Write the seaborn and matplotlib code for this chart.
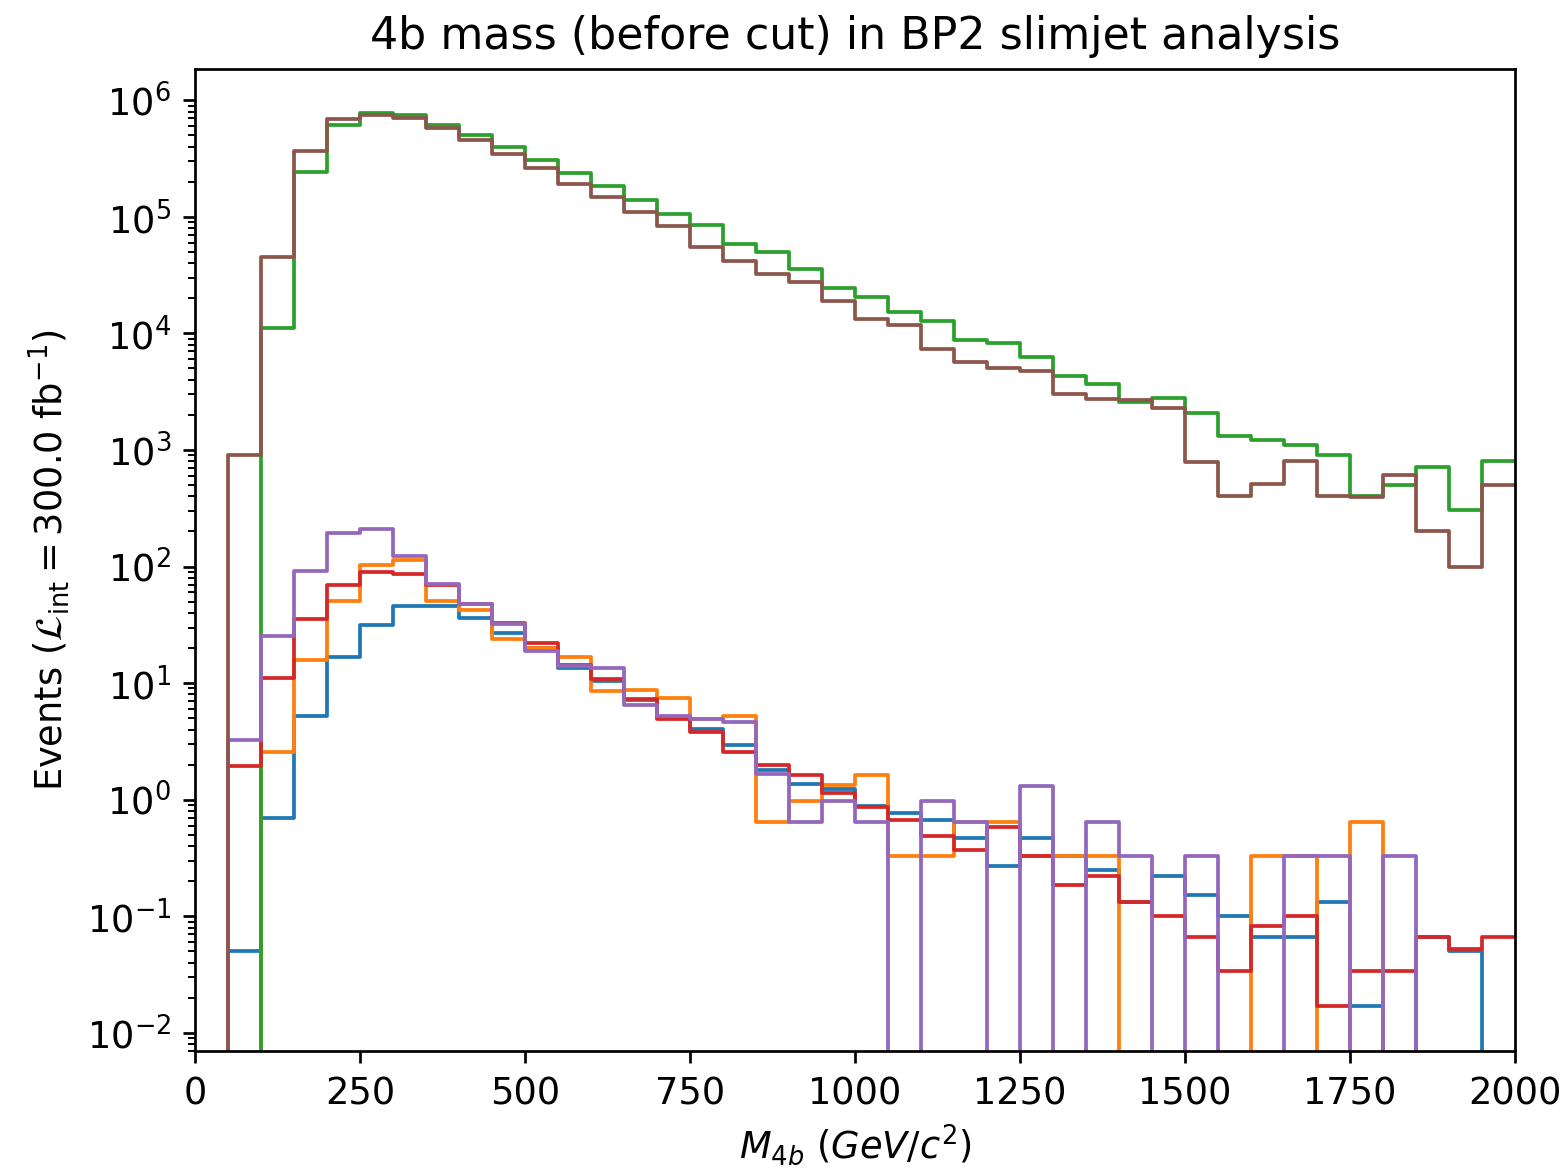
import numpy as np
import pandas as pd
import matplotlib
matplotlib.use("Agg")
import matplotlib.pyplot as plt
import seaborn as sns

# ---- data (events per 50 GeV bin, 0 .. 2000) ----
bin_edges = list(range(0, 2050, 50))

sample_blue = [0, 0.05, 0.70, 5.25, 16.9, 31.7, 45.5, 46, 36.5, 27,
               19.9, 13.5, 10.5, 7.2, 5.0, 4.06, 2.92, 1.8, 1.37, 1.24,
               0.88, 0.77, 0.665, 0.466, 0.268, 0.466, 0.327, 0.251, 0.134, 0.22,
               0.153, 0.1, 0.067, 0.067, 0.134, 0.017, 0, 0.067, 0.05, 0]
sample_orange = [0, 0, 2.56, 15.9, 51, 104, 114, 51, 42.7, 23.9,
                 19.9, 16.9, 8.6, 8.8, 7.5, 4.9, 5.2, 0.65, 0.97, 1.33,
                 1.64, 0.327, 0.327, 0.65, 0.65, 0.327, 0.327, 0.327, 0, 0,
                 0, 0, 0.327, 0.327, 0, 0.65, 0, 0, 0, 0]
sample_green = [0, 0, 11100, 240000, 616000, 780000, 750000, 616000, 500000, 400000,
                304000, 236000, 184000, 138000, 105000, 85000, 58000, 50000, 36000, 24300,
                20700, 15300, 12700, 8700, 8350, 6300, 4350, 3700, 2570, 2790,
                2070, 1320, 1220, 1100, 910, 400, 505, 715, 303, 804]
sample_red = [0, 1.93, 11, 35.5, 69, 89, 86, 69, 47.6, 33,
              22, 14.4, 10.9, 7.35, 4.9, 3.8, 2.56, 2.0, 1.64, 1.14,
              0.865, 0.67, 0.485, 0.373, 0.583, 0.33, 0.187, 0.22, 0.134, 0.1,
              0.067, 0.034, 0.083, 0.1, 0.017, 0.034, 0.034, 0.067, 0.052, 0.067]
sample_purple = [0, 3.27, 25.5, 91, 194, 210, 122, 71, 48, 32,
                 18.7, 14, 13.5, 6.5, 5.2, 4.95, 4.6, 1.66, 0.65, 0.98,
                 0.65, 0, 0.98, 0.65, 0, 1.3, 0, 0.65, 0.327, 0,
                 0.327, 0, 0, 0.327, 0.327, 0, 0.327, 0, 0, 0]
sample_brown = [0, 910, 45000, 370000, 690000, 750000, 710000, 576000, 460000, 347000,
                263000, 192000, 148000, 111000, 83000, 55000, 42000, 32500, 27600, 19000,
                13200, 11800, 7400, 5700, 5000, 4800, 3030, 2740, 2700, 2270,
                795, 400, 510, 810, 400, 395, 615, 200, 100, 505]

x_ticks = [0, 250, 500, 750, 1000, 1250, 1500, 1750, 2000]

series = [
    (sample_blue, "#1f77b4"),
    (sample_orange, "#ff7f0e"),
    (sample_green, "#2ca02c"),
    (sample_red, "#d62728"),
    (sample_purple, "#9467bd"),
    (sample_brown, "#8c564b"),
]

edges = np.array(bin_edges, dtype=float)
centers = 0.5 * (edges[:-1] + edges[1:])

fig = plt.figure(figsize=(6.4, 4.8), dpi=244.84)
ax = fig.add_axes([195 / 1567, 1 - 1051 / 1175, 1320 / 1567, 982 / 1175])
ax.set_yscale("log")

for vals, col in series:
    df = pd.DataFrame({"mass": centers, "events": vals})
    sns.histplot(data=df, x="mass", weights="events", bins=list(bin_edges),
                 element="step", fill=False, color=col, linewidth=1.1, ax=ax)

ax.set_xlim(0, 2000)
ax.set_ylim(7.0e-3, 1.86e6)
ax.set_xticks(x_ticks)
ax.tick_params(axis="both", which="major", labelsize=10.8)
ax.set_title("4b mass (before cut) in BP2 slimjet analysis", fontsize=13)
ax.set_xlabel(r"$M_{4b}\ (GeV/c^2)$", fontsize=10.8, labelpad=3)
ax.set_ylabel(r"Events ($\mathcal{L}_{\mathrm{int}} = 300.0$ fb$^{-1}$)", fontsize=10.8)

fig.savefig("out.png", dpi=244.84)
